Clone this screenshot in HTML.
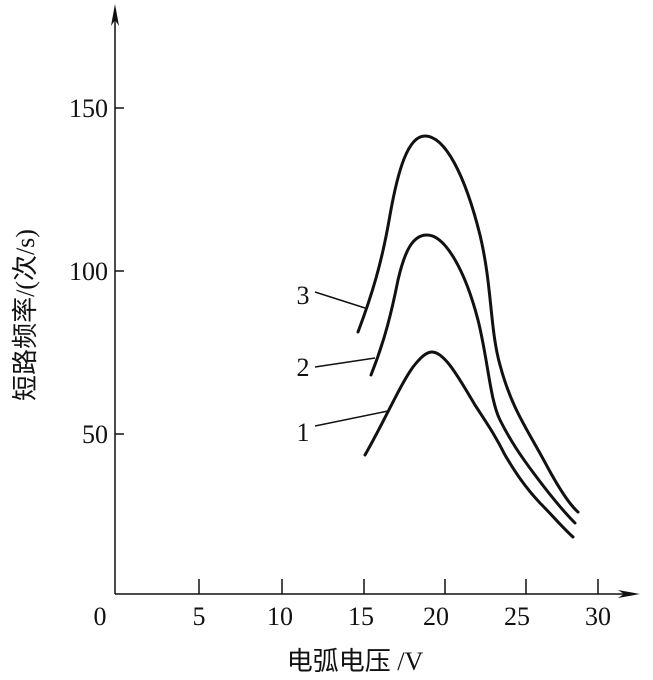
<!DOCTYPE html>
<html><head><meta charset="utf-8"><style>body{margin:0;background:#fff}</style></head><body>
<svg width="653" height="675" xmlns="http://www.w3.org/2000/svg" font-family="Liberation Serif, Noto Serif CJK SC, serif" font-size="26" fill="#111">
<g stroke="#111" stroke-width="1.5" fill="none">
<line x1="115" y1="594" x2="115" y2="12"/>
<line x1="115" y1="594" x2="630" y2="594"/>
<line x1="115" y1="108" x2="124" y2="108"/>
<line x1="115" y1="271" x2="124" y2="271"/>
<line x1="115" y1="434" x2="124" y2="434"/>
<line x1="199" y1="594" x2="199" y2="579"/>
<line x1="282" y1="594" x2="282" y2="579"/>
<line x1="364" y1="594" x2="364" y2="579"/>
<line x1="445" y1="594" x2="445" y2="579"/>
<line x1="526" y1="594" x2="526" y2="579"/>
<line x1="598" y1="594" x2="598" y2="579"/>
</g>
<polygon points="115,4 111,26 115,20 119,26" fill="#111"/>
<polygon points="640,594 618,590 624,594 618,598" fill="#111"/>
<g text-anchor="middle">
<text x="100" y="625">0</text><text x="199" y="625">5</text><text x="280" y="625">10</text>
<text x="361" y="625">15</text><text x="436" y="625">20</text><text x="517" y="625">25</text><text x="598" y="625">30</text>
</g>
<g text-anchor="end"><text x="108" y="117">150</text><text x="108" y="280">100</text><text x="108" y="443">50</text></g>
<text x="355" y="670" text-anchor="middle" font-family="Liberation Serif, Noto Sans CJK SC, serif">电弧电压 /V</text>
<text transform="translate(34,315) rotate(-90)" text-anchor="middle" font-family="Liberation Serif, Noto Sans CJK SC, serif">短路频率/(次/s)</text>
<g stroke="#111" stroke-width="3" fill="none" stroke-linecap="round">
<path d="M358,332 C372,295 382,262 390,215 C398,170 408,136 425,136 C445,136 465,175 480,235 C492,285 490,330 500,365 C512,410 528,430 548,468 C560,490 570,505 578,512"/>
<path d="M371,375 C385,340 392,310 398,280 C405,250 413,235 427,235 C445,235 465,270 478,320 C488,360 490,400 500,420 C510,440 520,455 535,475 C550,495 562,510 575,523"/>
<path d="M365,455 C385,420 400,385 413,367 C420,358 426,352 432,352 C445,352 460,380 475,405 C488,425 495,435 505,455 C515,472 525,487 540,503 C552,515 562,527 573,537"/>
</g>
<g stroke="#111" stroke-width="1.5">
<line x1="315" y1="292" x2="365" y2="308"/>
<line x1="315" y1="367" x2="375" y2="358"/>
<line x1="315" y1="426" x2="388" y2="411"/>
</g>
<text x="303" y="304" text-anchor="middle">3</text>
<text x="303" y="376" text-anchor="middle">2</text>
<text x="303" y="441" text-anchor="middle">1</text>
</svg>
</body></html>
